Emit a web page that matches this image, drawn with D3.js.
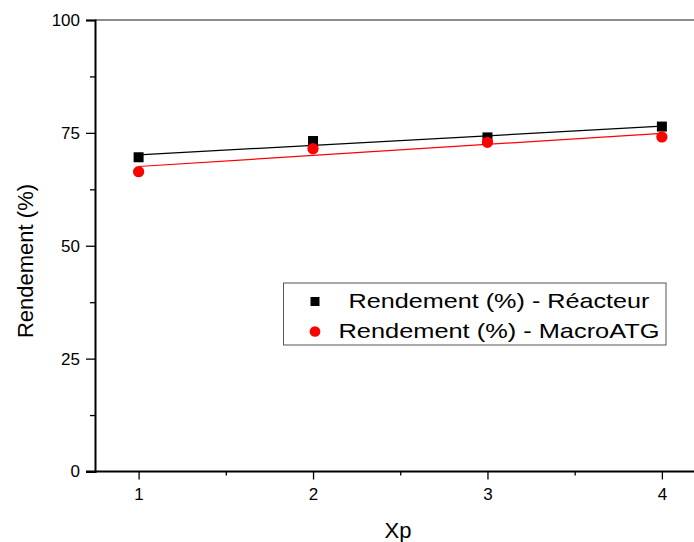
<!DOCTYPE html>
<html>
<head>
<meta charset="utf-8">
<script src="https://cdn.jsdelivr.net/npm/d3@7"></script>
<style>
  body { margin: 0; background: #fff; }
  svg { font-family: "Liberation Sans", Arial, sans-serif; }
</style>
</head>
<body>
<svg id="chart" width="694" height="542"></svg>
<script>
var xp = [1, 2, 3, 4];
var reacteur = [69.6, 73.2, 74.0, 76.4];
var macroATG = [66.4, 71.5, 72.9, 74.1];
var xTicks = [1, 2, 3, 4];
var xMinor = [1.5, 2.5, 3.5];
var yTicks = [0, 25, 50, 75, 100];
var yMinor = [12.5, 37.5, 62.5, 87.5];
var labels = ['Rendement (%) - Réacteur', 'Rendement (%) - MacroATG'];

var svg = d3.select('#chart');
var x = d3.scaleLinear().domain([0.75, 4.25]).range([95, 705.5]);
var y = d3.scaleLinear().domain([0, 100]).range([471.5, 20]);

// linear fit of each series
function fit(xs, ys) {
    var mx = d3.mean(xs), my = d3.mean(ys);
    var num = d3.sum(xs, function(v, i) {return (v - mx) * (ys[i] - my)});
    var den = d3.sum(xs, function(v) {return (v - mx) * (v - mx)});
    var b = num / den;
    return function(v) {return my + b * (v - mx)};
}

// top frame
svg.append('line')
    .attr('x1', x(0.75)).attr('x2', x(4.25))
    .attr('y1', y(100)).attr('y2', y(100))
    .attr('stroke', '#666').attr('stroke-width', 1.5);

// axes
var xAxis = svg.append('g').attr('transform', 'translate(0,' + y(0) + ')')
    .call(d3.axisBottom(x).tickValues(xTicks).tickSize(8).tickPadding(8).tickFormat(d3.format('d')));
svg.append('g').attr('transform', 'translate(0,' + y(0) + ')')
    .call(d3.axisBottom(x).tickValues(xMinor).tickSize(4).tickFormat(''))
    .select('.domain').remove();
var yAxis = svg.append('g').attr('transform', 'translate(' + x(0.75) + ',0)')
    .call(d3.axisLeft(y).tickValues(yTicks).tickSize(9).tickPadding(6));
svg.append('g').attr('transform', 'translate(' + x(0.75) + ',0)')
    .call(d3.axisLeft(y).tickValues(yMinor).tickSize(5).tickFormat(''))
    .select('.domain').remove();

svg.selectAll('.domain').attr('stroke', '#000').attr('stroke-width', 2);
svg.selectAll('.tick line').attr('stroke', '#000').attr('stroke-width', 1.3);
svg.selectAll('.tick text').attr('font-size', 17).attr('fill', '#000')
    .attr('font-family', '"Liberation Sans", Arial, sans-serif');
xAxis.select('.domain').attr('d', 'M' + (x(0.75) - 9) + ',0H' + x(4.25));

// axis titles
svg.append('text').attr('x', 398).attr('y', 538)
    .attr('text-anchor', 'middle').attr('font-size', 22).text('Xp');
svg.append('text').attr('transform', 'translate(33,261) rotate(-90)')
    .attr('text-anchor', 'middle').attr('font-size', 22).text('Rendement (%)');

// fit lines and points
var series = [
    {vals: reacteur, color: '#000', shape: 'square'},
    {vals: macroATG, color: '#ff0000', shape: 'circle'}
];
series.forEach(function(s) {
    var f = fit(xp, s.vals);
    svg.append('line')
        .attr('x1', x(1)).attr('y1', y(f(1)))
        .attr('x2', x(4)).attr('y2', y(f(4)))
        .attr('stroke', s.color).attr('stroke-width', 1.2);
});
series.forEach(function(s) {
    var sym = s.shape == 'square' ? d3.symbolSquare : d3.symbolCircle;
    svg.selectAll(null).data(s.vals).enter().append('path')
        .attr('d', d3.symbol().type(sym).size(100))
        .attr('transform', function(d, i) {return 'translate(' + x(xp[i]) + ',' + y(d) + ')'})
        .attr('fill', s.color);
});

// legend
var legend = svg.append('g');
legend.append('rect').attr('x', 283.5).attr('y', 283).attr('width', 382.5).attr('height', 62)
    .attr('fill', '#fff').attr('stroke', '#555').attr('stroke-width', 1);
var textWidths = [301, 321];
labels.forEach(function(t, i) {
    var s = series[i];
    var sym = s.shape == 'square' ? d3.symbolSquare : d3.symbolCircle;
    legend.append('path')
        .attr('d', d3.symbol().type(sym).size(s.shape == 'square' ? 81 : 90))
        .attr('transform', 'translate(315,' + (301.5 + i * 30) + ')')
        .attr('fill', s.color);
    legend.append('text').attr('x', 499).attr('y', 308 + i * 30)
        .attr('text-anchor', 'middle').attr('font-size', 21)
        .attr('textLength', textWidths[i]).attr('lengthAdjust', 'spacingAndGlyphs')
        .text(t);
});
</script>
</body>
</html>
